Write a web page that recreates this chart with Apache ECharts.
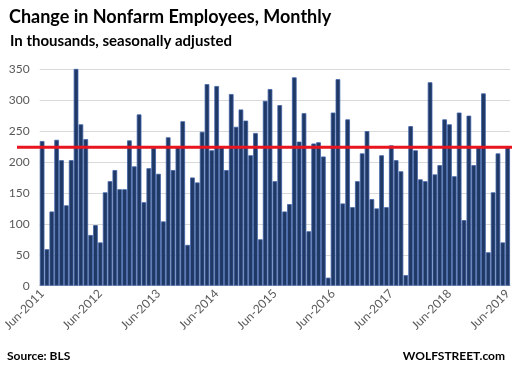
<!DOCTYPE html>
<html><head><meta charset="utf-8">
<script src="https://cdn.jsdelivr.net/npm/echarts@6/dist/echarts.min.js"></script>
<style>html,body{margin:0;padding:0;background:#fff}#c{width:514px;height:375px}</style>
</head><body><div id="c"></div>
<script>
// Monthly change in nonfarm employees (thousands), Jun-2011 .. Jun-2019
const values = [
  234,59,120,236,203,130,203,353,261,237,82,98,70,151,169,187,156,156,235,193,277,135,190,223,181,104,240,187,
  225,266,66,175,167,249,326,219,323,224,187,310,257,285,267,211,247,75,299,318,169,292,120,132,337,233,279,88,230,232,209,13,280,334,133,269,
  127,169,214,250,140,125,211,127,227,203,185,17,258,219,172,169,329,180,195,269,261,177,280,106,275,195,225,311,54,151,214,70,224
];
const monthNames = ['Jan','Feb','Mar','Apr','May','Jun','Jul','Aug','Sep','Oct','Nov','Dec'];
const startYear = 2011, startMonth = 5;
const categories = values.map((_, i) => {
  const m = startMonth + i;
  return monthNames[m % 12] + '-' + (startYear + Math.floor(m / 12));
});
const tickLabels = ['Jun-2011','Jun-2012','Jun-2013','Jun-2014','Jun-2015','Jun-2016','Jun-2017','Jun-2018','Jun-2019'];
const refLevel = [224, 224];
const yTicks = [0,50,100,150,200,250,300,350];

const chart = echarts.init(document.getElementById('c'), null, {renderer:'canvas'});
const font = 'Lato, "Open Sans", sans-serif';
chart.setOption({
  animation:false,
  backgroundColor:'#fff',
  title:[
    {text:'Change in Nonfarm Employees, Monthly', left:4, top:3,
     textStyle:{fontFamily:font, fontWeight:'bold', fontSize:18, color:'#000'}},
    {text:'In thousands, seasonally adjusted', left:5, top:29,
     textStyle:{fontFamily:font, fontWeight:'bold', fontSize:15, color:'#000'}},
    {text:'Source: BLS', left:2, bottom:8,
     textStyle:{fontFamily:font, fontWeight:'bold', fontSize:12, color:'#000'}},
    {text:'WOLFSTREET.com', right:4, bottom:8,
     textStyle:{fontFamily:font, fontWeight:'bold', fontSize:12, color:'#000'}}
  ],
  grid:[
    {left:35, right:3, top:69.3, bottom:89.3},
    {left:17, right:2, top:69.3, bottom:89.3}
  ],
  xAxis:[
    {type:'category', gridIndex:0, data:categories, boundaryGap:true,
     axisLine:{lineStyle:{color:'#bfbfbf'}}, axisTick:{show:false},
     axisLabel:{interval:(i, v) => tickLabels.indexOf(v) >= 0, rotate:45, color:'#595959',
       fontFamily:font, fontSize:12, margin:6}},
    {type:'value', gridIndex:1, min:0, max:1, show:false}
  ],
  yAxis:[
    {type:'value', gridIndex:0, min:yTicks[0], max:yTicks[yTicks.length-1], interval:50,
     axisLine:{show:false}, axisTick:{show:false},
     splitLine:{lineStyle:{color:'#d9d9d9', width:1}},
     axisLabel:{color:'#595959', fontFamily:font, fontSize:12, margin:10}},
    {type:'value', gridIndex:1, min:yTicks[0], max:yTicks[yTicks.length-1], show:false}
  ],
  series:[
    {type:'bar', xAxisIndex:0, yAxisIndex:0, data:values, barCategoryGap:'4%',
     itemStyle:{color:'#1f3864', borderColor:'#3f62a8', borderWidth:0.8}},
    {type:'line', xAxisIndex:1, yAxisIndex:1, data:[[0,refLevel[0]],[1,refLevel[1]]],
     symbol:'none', z:10, lineStyle:{color:'#e8151f', width:3}}
  ]
});
</script></body></html>
